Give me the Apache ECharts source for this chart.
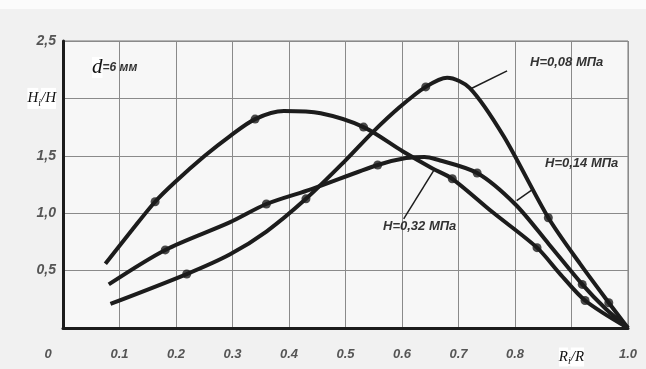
<!DOCTYPE html>
<html>
<head>
<meta charset="utf-8">
<script src="https://cdn.jsdelivr.net/npm/echarts@6/dist/echarts.min.js"></script>
<style>
html,body{margin:0;padding:0;background:#f1f1f1;}
#chart{width:646px;height:369px;}
</style>
</head>
<body>
<div id="chart"></div>
<script>
// curves: [Ri/R, Hi/H]
var curve008 = [[0.084,0.21],[0.219,0.47],[0.295,0.64],[0.36,0.84],[0.43,1.125],[0.5,1.46],[0.547,1.70],[0.595,1.92],[0.642,2.10],[0.68,2.18],[0.72,2.09],[0.78,1.67],[0.859,0.96],[0.915,0.56],[0.966,0.22],[1.0,0.0]];
var curve014 = [[0.081,0.38],[0.181,0.68],[0.295,0.92],[0.36,1.08],[0.44,1.21],[0.557,1.42],[0.607,1.48],[0.64,1.49],[0.66,1.47],[0.733,1.35],[0.8,1.08],[0.86,0.73],[0.919,0.38],[0.96,0.17],[1.0,0.0]];
var curve032 = [[0.075,0.56],[0.12,0.84],[0.163,1.10],[0.198,1.27],[0.251,1.50],[0.295,1.67],[0.34,1.82],[0.391,1.89],[0.456,1.87],[0.532,1.75],[0.601,1.54],[0.654,1.39],[0.689,1.30],[0.76,1.01],[0.839,0.70],[0.88,0.47],[0.924,0.24],[1.0,0.0]];

// measured points (dots)
var dots008 = [[0.219,0.47],[0.43,1.125],[0.642,2.10],[0.859,0.96],[0.966,0.22]];
var dots014 = [[0.181,0.68],[0.36,1.08],[0.557,1.42],[0.733,1.35],[0.919,0.38]];
var dots032 = [[0.163,1.10],[0.34,1.82],[0.532,1.75],[0.689,1.30],[0.839,0.70],[0.924,0.24]];

// leader lines from labels to curves
var lead008 = [[0.786,2.24],[0.72,2.08]];
var lead014 = [[0.832,1.21],[0.803,1.11]];
var lead032 = [[0.603,0.95],[0.656,1.37]];

var ink = '#1c1c1c';
var gridCol = '#8a8a8a';

function curve(name, data, lead){
	return {
		name:name,
		type:'line',
		smooth:0.3,
		symbol:'none',
		lineStyle:{color:ink,width:4},
		data:data,
		z:3,
		markLine:{
			silent:true,
			symbol:'none',
			label:{show:false},
			lineStyle:{color:ink,width:1.5,type:'solid'},
			data:[[{coord:lead[0]},{coord:lead[1]}]]
		}
	};
}
function dots(data){
	return {
		type:'scatter',
		symbol:'circle',
		symbolSize:9,
		itemStyle:{color:ink},
		data:data,
		z:4
	};
}

var labelFont = {fontFamily:'Liberation Sans, Arial, sans-serif',fontStyle:'italic',fontWeight:'bold',fontSize:13,fill:'#333'};

var chart = echarts.init(document.getElementById('chart'));
var option = {
	backgroundColor:'#f1f1f1',
	animation:false,
	grid:{
		left:63,right:18,top:41,bottom:41,
		show:true,
		backgroundColor:'#f7f7f7',
		borderColor:'#777',
		borderWidth:1
	},
	xAxis:{
		type:'value',
		min:0,max:1,interval:0.1,
		axisLine:{show:true,lineStyle:{color:ink,width:3}},
		axisTick:{show:false},
		splitLine:{show:true,lineStyle:{color:gridCol,width:1}},
		axisLabel:{
			margin:20,
			color:'#555',
			fontSize:13,
			fontStyle:'italic',
			fontWeight:'bold',
			fontFamily:'Liberation Sans, Arial, sans-serif',
			formatter:function(v){
				var r = Math.round(v*10)/10;
				if(r===0) return '{z|0}';
				if(r===0.9) return '{r|R}{s|i}{r|/R}';
				return r.toFixed(1);
			},
			rich:{
				z:{padding:[0,30,0,0],color:'#555',fontSize:13,fontStyle:'italic',fontWeight:'bold'},
				r:{fontFamily:'Liberation Serif, serif',fontStyle:'italic',fontWeight:'normal',fontSize:15,color:'#111',backgroundColor:'#fff',padding:[2,0,2,0],lineHeight:18},
				s:{fontFamily:'Liberation Serif, serif',fontStyle:'italic',fontWeight:'normal',fontSize:10,color:'#111',backgroundColor:'#fff',verticalAlign:'bottom',padding:[6,0,0,0],lineHeight:18}
			}
		}
	},
	yAxis:{
		type:'value',
		min:0,max:2.5,interval:0.5,
		axisLine:{show:true,lineStyle:{color:ink,width:3}},
		axisTick:{show:false},
		splitLine:{show:true,lineStyle:{color:gridCol,width:1}},
		axisLabel:{
			margin:7,
			color:'#555',
			fontSize:14,
			fontStyle:'italic',
			fontWeight:'bold',
			fontFamily:'Liberation Sans, Arial, sans-serif',
			formatter:function(v){
				if(v===0) return '';
				if(v===2) return '{h|H}{s|i}{h|/H}';
				return v.toFixed(1).replace('.',',');
			},
			rich:{
				h:{fontFamily:'Liberation Serif, serif',fontStyle:'italic',fontWeight:'normal',fontSize:15,color:'#111',backgroundColor:'#fff',padding:[3,0,3,0],lineHeight:20},
				s:{fontFamily:'Liberation Serif, serif',fontStyle:'italic',fontWeight:'normal',fontSize:10,color:'#111',backgroundColor:'#fff',verticalAlign:'bottom',padding:[7,0,0,0],lineHeight:20}
			}
		}
	},
	graphic:[
		{type:'rect',left:0,top:0,shape:{width:646,height:9},style:{fill:'#fbfbfb'},silent:true},
		{type:'text',left:92,top:57,z:10,style:{
			text:'{d|d}{t|=6 мм}',
			rich:{
				d:{fontFamily:'Liberation Serif, serif',fontStyle:'italic',fontSize:21,fill:'#111',backgroundColor:'#fff'},
				t:{fontFamily:'Liberation Sans, Arial, sans-serif',fontStyle:'italic',fontWeight:'bold',fontSize:12,fill:'#333'}
			}
		}},
		{type:'text',left:530,top:56,z:10,style:Object.assign({text:'H=0,08 МПа'},labelFont)},
		{type:'text',left:545,top:157,z:10,style:Object.assign({text:'H=0,14 МПа'},labelFont)},
		{type:'text',left:383,top:220,z:10,style:Object.assign({text:'H=0,32 МПа'},labelFont)}
	],
	series:[
		curve('H=0,08 МПа',curve008,lead008),
		curve('H=0,14 МПа',curve014,lead014),
		curve('H=0,32 МПа',curve032,lead032),
		dots(dots008),
		dots(dots014),
		dots(dots032)
	]
};
chart.setOption(option);
</script>
</body>
</html>
